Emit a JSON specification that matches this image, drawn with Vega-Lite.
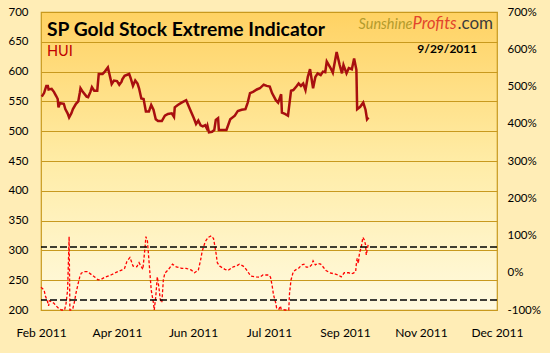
{
  "$schema": "https://vega.github.io/schema/vega-lite/v6.json",
  "width": 456,
  "height": 298,
  "autosize": "none",
  "padding": {"left": 41, "top": 12, "right": 53, "bottom": 43},
  "background": "#FFEDB6",
  "config": {
    "font": "Lato",
    "view": {
      "stroke": "#C8991E",
      "strokeWidth": 1.2,
      "fill": {"gradient": "linear", "x1": 0, "y1": 0, "x2": 0, "y2": 1,
        "stops": [{"offset": 0, "color": "#FFD263"}, {"offset": 0.5, "color": "#FFECA6"}, {"offset": 1, "color": "#FFFAE0"}]}
    },
    "axis": {"labelFont": "Lato", "labelColor": "#000000", "title": null}
  },
  "title": {
    "text": "SP Gold Stock Extreme Indicator",
    "subtitle": "HUI",
    "anchor": "start",
    "frame": "group",
    "dx": 6,
    "dy": 52,
    "offset": 0,
    "font": "Lato",
    "fontSize": 19.3,
    "fontWeight": "bold",
    "color": "#000000",
    "subtitleFont": "Lato",
    "subtitleFontSize": 14.5,
    "subtitleColor": "#C00000",
    "subtitlePadding": 4
  },
  "datasets": {
    "hui": [
      {"date": "2011-02-25T12:00:00Z", "hui": 558},
      {"date": "2011-02-27T00:00:00Z", "hui": 564},
      {"date": "2011-02-28T12:00:00Z", "hui": 576},
      {"date": "2011-03-01T12:00:00Z", "hui": 576},
      {"date": "2011-03-02T00:00:00Z", "hui": 570},
      {"date": "2011-03-04T00:00:00Z", "hui": 571},
      {"date": "2011-03-05T12:00:00Z", "hui": 566},
      {"date": "2011-03-07T00:00:00Z", "hui": 559},
      {"date": "2011-03-08T00:00:00Z", "hui": 554},
      {"date": "2011-03-08T12:00:00Z", "hui": 540},
      {"date": "2011-03-09T12:00:00Z", "hui": 547},
      {"date": "2011-03-12T00:00:00Z", "hui": 546},
      {"date": "2011-03-13T00:00:00Z", "hui": 537},
      {"date": "2011-03-14T12:00:00Z", "hui": 530},
      {"date": "2011-03-15T12:00:00Z", "hui": 523},
      {"date": "2011-03-17T00:00:00Z", "hui": 530},
      {"date": "2011-03-18T00:00:00Z", "hui": 537},
      {"date": "2011-03-20T00:00:00Z", "hui": 546},
      {"date": "2011-03-21T12:00:00Z", "hui": 550},
      {"date": "2011-03-22T12:00:00Z", "hui": 564},
      {"date": "2011-03-23T00:00:00Z", "hui": 572},
      {"date": "2011-03-24T12:00:00Z", "hui": 566},
      {"date": "2011-03-27T00:00:00Z", "hui": 558},
      {"date": "2011-03-28T00:00:00Z", "hui": 557},
      {"date": "2011-03-29T12:00:00Z", "hui": 566},
      {"date": "2011-03-30T12:00:00Z", "hui": 574},
      {"date": "2011-04-01T00:00:00Z", "hui": 568},
      {"date": "2011-04-03T00:00:00Z", "hui": 568},
      {"date": "2011-04-04T00:00:00Z", "hui": 596},
      {"date": "2011-04-06T12:00:00Z", "hui": 596},
      {"date": "2011-04-08T00:00:00Z", "hui": 600},
      {"date": "2011-04-10T00:00:00Z", "hui": 607},
      {"date": "2011-04-12T00:00:00Z", "hui": 585},
      {"date": "2011-04-12T12:00:00Z", "hui": 579},
      {"date": "2011-04-14T00:00:00Z", "hui": 585},
      {"date": "2011-04-16T00:00:00Z", "hui": 584},
      {"date": "2011-04-17T12:00:00Z", "hui": 578},
      {"date": "2011-04-19T00:00:00Z", "hui": 583},
      {"date": "2011-04-19T12:00:00Z", "hui": 587},
      {"date": "2011-04-21T00:00:00Z", "hui": 593},
      {"date": "2011-04-24T00:00:00Z", "hui": 596},
      {"date": "2011-04-25T00:00:00Z", "hui": 589},
      {"date": "2011-04-26T12:00:00Z", "hui": 576},
      {"date": "2011-04-28T00:00:00Z", "hui": 585},
      {"date": "2011-04-29T12:00:00Z", "hui": 580},
      {"date": "2011-04-30T12:00:00Z", "hui": 572},
      {"date": "2011-05-02T00:00:00Z", "hui": 555},
      {"date": "2011-05-03T12:00:00Z", "hui": 554},
      {"date": "2011-05-05T00:00:00Z", "hui": 533},
      {"date": "2011-05-07T00:00:00Z", "hui": 533},
      {"date": "2011-05-08T12:00:00Z", "hui": 544},
      {"date": "2011-05-10T00:00:00Z", "hui": 536},
      {"date": "2011-05-11T12:00:00Z", "hui": 520},
      {"date": "2011-05-13T00:00:00Z", "hui": 517},
      {"date": "2011-05-15T12:00:00Z", "hui": 517},
      {"date": "2011-05-17T12:00:00Z", "hui": 526},
      {"date": "2011-05-19T12:00:00Z", "hui": 529},
      {"date": "2011-05-22T00:00:00Z", "hui": 530},
      {"date": "2011-05-23T12:00:00Z", "hui": 524},
      {"date": "2011-05-24T00:00:00Z", "hui": 540},
      {"date": "2011-05-26T00:00:00Z", "hui": 544},
      {"date": "2011-05-28T12:00:00Z", "hui": 548},
      {"date": "2011-05-31T12:00:00Z", "hui": 552},
      {"date": "2011-06-03T00:00:00Z", "hui": 537},
      {"date": "2011-06-05T12:00:00Z", "hui": 522},
      {"date": "2011-06-07T00:00:00Z", "hui": 512},
      {"date": "2011-06-08T12:00:00Z", "hui": 518},
      {"date": "2011-06-10T00:00:00Z", "hui": 510},
      {"date": "2011-06-11T12:00:00Z", "hui": 508},
      {"date": "2011-06-13T00:00:00Z", "hui": 510},
      {"date": "2011-06-14T00:00:00Z", "hui": 505},
      {"date": "2011-06-14T12:00:00Z", "hui": 509},
      {"date": "2011-06-15T12:00:00Z", "hui": 498},
      {"date": "2011-06-17T12:00:00Z", "hui": 499},
      {"date": "2011-06-19T00:00:00Z", "hui": 502},
      {"date": "2011-06-20T00:00:00Z", "hui": 519},
      {"date": "2011-06-21T12:00:00Z", "hui": 522},
      {"date": "2011-06-22T00:00:00Z", "hui": 502},
      {"date": "2011-06-27T00:00:00Z", "hui": 502},
      {"date": "2011-06-29T12:00:00Z", "hui": 520},
      {"date": "2011-07-02T12:00:00Z", "hui": 526},
      {"date": "2011-07-04T12:00:00Z", "hui": 534},
      {"date": "2011-07-07T00:00:00Z", "hui": 536},
      {"date": "2011-07-09T12:00:00Z", "hui": 537},
      {"date": "2011-07-11T00:00:00Z", "hui": 548},
      {"date": "2011-07-12T12:00:00Z", "hui": 564},
      {"date": "2011-07-14T12:00:00Z", "hui": 566},
      {"date": "2011-07-17T00:00:00Z", "hui": 570},
      {"date": "2011-07-19T00:00:00Z", "hui": 572},
      {"date": "2011-07-21T12:00:00Z", "hui": 578},
      {"date": "2011-07-23T12:00:00Z", "hui": 576},
      {"date": "2011-07-25T12:00:00Z", "hui": 575},
      {"date": "2011-07-27T00:00:00Z", "hui": 564},
      {"date": "2011-07-29T12:00:00Z", "hui": 552},
      {"date": "2011-07-31T00:00:00Z", "hui": 548},
      {"date": "2011-08-02T00:00:00Z", "hui": 562},
      {"date": "2011-08-02T12:00:00Z", "hui": 531},
      {"date": "2011-08-04T12:00:00Z", "hui": 529},
      {"date": "2011-08-06T12:00:00Z", "hui": 526},
      {"date": "2011-08-08T12:00:00Z", "hui": 568},
      {"date": "2011-08-10T00:00:00Z", "hui": 569},
      {"date": "2011-08-12T00:00:00Z", "hui": 575},
      {"date": "2011-08-13T12:00:00Z", "hui": 580},
      {"date": "2011-08-15T00:00:00Z", "hui": 576},
      {"date": "2011-08-16T12:00:00Z", "hui": 580},
      {"date": "2011-08-18T00:00:00Z", "hui": 569},
      {"date": "2011-08-19T12:00:00Z", "hui": 591},
      {"date": "2011-08-21T00:00:00Z", "hui": 604},
      {"date": "2011-08-23T00:00:00Z", "hui": 572},
      {"date": "2011-08-24T12:00:00Z", "hui": 591},
      {"date": "2011-08-26T00:00:00Z", "hui": 597},
      {"date": "2011-08-28T00:00:00Z", "hui": 594},
      {"date": "2011-08-29T12:00:00Z", "hui": 600},
      {"date": "2011-08-31T00:00:00Z", "hui": 599},
      {"date": "2011-09-01T00:00:00Z", "hui": 617},
      {"date": "2011-09-03T12:00:00Z", "hui": 606},
      {"date": "2011-09-05T00:00:00Z", "hui": 598},
      {"date": "2011-09-07T12:00:00Z", "hui": 633},
      {"date": "2011-09-09T12:00:00Z", "hui": 611},
      {"date": "2011-09-11T00:00:00Z", "hui": 597},
      {"date": "2011-09-12T00:00:00Z", "hui": 611},
      {"date": "2011-09-14T00:00:00Z", "hui": 597},
      {"date": "2011-09-15T12:00:00Z", "hui": 606},
      {"date": "2011-09-17T12:00:00Z", "hui": 604},
      {"date": "2011-09-19T00:00:00Z", "hui": 622},
      {"date": "2011-09-20T12:00:00Z", "hui": 603},
      {"date": "2011-09-21T00:00:00Z", "hui": 537},
      {"date": "2011-09-23T00:00:00Z", "hui": 541},
      {"date": "2011-09-25T00:00:00Z", "hui": 548},
      {"date": "2011-09-26T12:00:00Z", "hui": 536},
      {"date": "2011-09-27T12:00:00Z", "hui": 520},
      {"date": "2011-09-28T12:00:00Z", "hui": 523}
    ],
    "ind": [
      {"date": "2011-02-25T00:00:00Z", "pct": -39},
      {"date": "2011-02-27T00:00:00Z", "pct": -46},
      {"date": "2011-02-28T00:00:00Z", "pct": -64},
      {"date": "2011-03-01T00:00:00Z", "pct": -73},
      {"date": "2011-03-02T00:00:00Z", "pct": -89},
      {"date": "2011-03-02T12:00:00Z", "pct": -75},
      {"date": "2011-03-04T00:00:00Z", "pct": -78},
      {"date": "2011-03-05T12:00:00Z", "pct": -82},
      {"date": "2011-03-07T00:00:00Z", "pct": -89},
      {"date": "2011-03-08T12:00:00Z", "pct": -95},
      {"date": "2011-03-10T12:00:00Z", "pct": -100},
      {"date": "2011-03-12T12:00:00Z", "pct": -100},
      {"date": "2011-03-13T12:00:00Z", "pct": -82},
      {"date": "2011-03-14T12:00:00Z", "pct": -46},
      {"date": "2011-03-15T12:00:00Z", "pct": 97},
      {"date": "2011-03-16T00:00:00Z", "pct": -100},
      {"date": "2011-03-17T00:00:00Z", "pct": -100},
      {"date": "2011-03-18T00:00:00Z", "pct": -95},
      {"date": "2011-03-19T00:00:00Z", "pct": -78},
      {"date": "2011-03-20T00:00:00Z", "pct": -55},
      {"date": "2011-03-21T12:00:00Z", "pct": -28},
      {"date": "2011-03-22T12:00:00Z", "pct": -11},
      {"date": "2011-03-23T12:00:00Z", "pct": -1},
      {"date": "2011-03-25T12:00:00Z", "pct": 3},
      {"date": "2011-03-27T12:00:00Z", "pct": 3},
      {"date": "2011-03-29T12:00:00Z", "pct": -3},
      {"date": "2011-04-01T12:00:00Z", "pct": -12},
      {"date": "2011-04-03T12:00:00Z", "pct": -19},
      {"date": "2011-04-05T12:00:00Z", "pct": -18},
      {"date": "2011-04-08T00:00:00Z", "pct": -12},
      {"date": "2011-04-10T00:00:00Z", "pct": -9},
      {"date": "2011-04-12T00:00:00Z", "pct": -6},
      {"date": "2011-04-14T12:00:00Z", "pct": -1},
      {"date": "2011-04-16T12:00:00Z", "pct": 3},
      {"date": "2011-04-19T00:00:00Z", "pct": 7},
      {"date": "2011-04-21T00:00:00Z", "pct": 12},
      {"date": "2011-04-22T12:00:00Z", "pct": 30},
      {"date": "2011-04-24T12:00:00Z", "pct": 41},
      {"date": "2011-04-25T12:00:00Z", "pct": 30},
      {"date": "2011-04-26T12:00:00Z", "pct": 18},
      {"date": "2011-04-29T00:00:00Z", "pct": 16},
      {"date": "2011-04-30T12:00:00Z", "pct": 27},
      {"date": "2011-05-02T00:00:00Z", "pct": 16},
      {"date": "2011-05-03T00:00:00Z", "pct": 9},
      {"date": "2011-05-04T12:00:00Z", "pct": 70},
      {"date": "2011-05-05T00:00:00Z", "pct": 97},
      {"date": "2011-05-06T00:00:00Z", "pct": 86},
      {"date": "2011-05-07T00:00:00Z", "pct": 34},
      {"date": "2011-05-08T12:00:00Z", "pct": -46},
      {"date": "2011-05-10T00:00:00Z", "pct": -82},
      {"date": "2011-05-10T12:00:00Z", "pct": -100},
      {"date": "2011-05-11T12:00:00Z", "pct": -64},
      {"date": "2011-05-12T12:00:00Z", "pct": -11},
      {"date": "2011-05-13T12:00:00Z", "pct": -37},
      {"date": "2011-05-14T12:00:00Z", "pct": -73},
      {"date": "2011-05-15T12:00:00Z", "pct": -80},
      {"date": "2011-05-16T12:00:00Z", "pct": -19},
      {"date": "2011-05-17T12:00:00Z", "pct": -1},
      {"date": "2011-05-19T12:00:00Z", "pct": 7},
      {"date": "2011-05-22T12:00:00Z", "pct": 23},
      {"date": "2011-05-25T00:00:00Z", "pct": 16},
      {"date": "2011-05-28T12:00:00Z", "pct": 12},
      {"date": "2011-05-31T12:00:00Z", "pct": 12},
      {"date": "2011-06-04T00:00:00Z", "pct": 7},
      {"date": "2011-06-06T00:00:00Z", "pct": 0},
      {"date": "2011-06-08T12:00:00Z", "pct": 7},
      {"date": "2011-06-10T00:00:00Z", "pct": 34},
      {"date": "2011-06-11T00:00:00Z", "pct": 57},
      {"date": "2011-06-13T00:00:00Z", "pct": 83},
      {"date": "2011-06-15T00:00:00Z", "pct": 95},
      {"date": "2011-06-17T00:00:00Z", "pct": 99},
      {"date": "2011-06-18T12:00:00Z", "pct": 92},
      {"date": "2011-06-20T00:00:00Z", "pct": 57},
      {"date": "2011-06-21T00:00:00Z", "pct": 27},
      {"date": "2011-06-22T12:00:00Z", "pct": 18},
      {"date": "2011-06-26T00:00:00Z", "pct": 9},
      {"date": "2011-06-28T00:00:00Z", "pct": 6},
      {"date": "2011-07-01T12:00:00Z", "pct": 16},
      {"date": "2011-07-03T12:00:00Z", "pct": 18},
      {"date": "2011-07-05T12:00:00Z", "pct": 23},
      {"date": "2011-07-08T00:00:00Z", "pct": 18},
      {"date": "2011-07-10T00:00:00Z", "pct": 9},
      {"date": "2011-07-13T00:00:00Z", "pct": -9},
      {"date": "2011-07-16T12:00:00Z", "pct": -11},
      {"date": "2011-07-19T00:00:00Z", "pct": -12},
      {"date": "2011-07-21T00:00:00Z", "pct": -6},
      {"date": "2011-07-25T00:00:00Z", "pct": -6},
      {"date": "2011-07-26T00:00:00Z", "pct": -12},
      {"date": "2011-07-27T00:00:00Z", "pct": -33},
      {"date": "2011-07-28T00:00:00Z", "pct": -60},
      {"date": "2011-07-29T12:00:00Z", "pct": -82},
      {"date": "2011-07-30T00:00:00Z", "pct": -95},
      {"date": "2011-07-31T12:00:00Z", "pct": -98},
      {"date": "2011-08-01T12:00:00Z", "pct": -89},
      {"date": "2011-08-02T00:00:00Z", "pct": -98},
      {"date": "2011-08-04T12:00:00Z", "pct": -100},
      {"date": "2011-08-07T00:00:00Z", "pct": -100},
      {"date": "2011-08-07T12:00:00Z", "pct": -55},
      {"date": "2011-08-08T12:00:00Z", "pct": -19},
      {"date": "2011-08-10T00:00:00Z", "pct": 3},
      {"date": "2011-08-12T00:00:00Z", "pct": 9},
      {"date": "2011-08-13T12:00:00Z", "pct": 12},
      {"date": "2011-08-15T12:00:00Z", "pct": 21},
      {"date": "2011-08-17T00:00:00Z", "pct": 23},
      {"date": "2011-08-18T12:00:00Z", "pct": 15},
      {"date": "2011-08-20T12:00:00Z", "pct": 15},
      {"date": "2011-08-22T00:00:00Z", "pct": 21},
      {"date": "2011-08-23T00:00:00Z", "pct": 32},
      {"date": "2011-08-24T12:00:00Z", "pct": 21},
      {"date": "2011-08-26T00:00:00Z", "pct": 25},
      {"date": "2011-08-28T00:00:00Z", "pct": 23},
      {"date": "2011-08-29T12:00:00Z", "pct": 16},
      {"date": "2011-08-31T12:00:00Z", "pct": 6},
      {"date": "2011-09-03T00:00:00Z", "pct": 0},
      {"date": "2011-09-06T00:00:00Z", "pct": -3},
      {"date": "2011-09-08T12:00:00Z", "pct": -6},
      {"date": "2011-09-10T12:00:00Z", "pct": -11},
      {"date": "2011-09-12T12:00:00Z", "pct": 0},
      {"date": "2011-09-15T12:00:00Z", "pct": 0},
      {"date": "2011-09-17T00:00:00Z", "pct": -3},
      {"date": "2011-09-18T12:00:00Z", "pct": -1},
      {"date": "2011-09-20T00:00:00Z", "pct": 3},
      {"date": "2011-09-20T12:00:00Z", "pct": 25},
      {"date": "2011-09-21T00:00:00Z", "pct": 39},
      {"date": "2011-09-21T18:00:00Z", "pct": 25},
      {"date": "2011-09-22T12:00:00Z", "pct": 52},
      {"date": "2011-09-23T18:00:00Z", "pct": 70},
      {"date": "2011-09-24T18:00:00Z", "pct": 95},
      {"date": "2011-09-25T18:00:00Z", "pct": 88},
      {"date": "2011-09-26T12:00:00Z", "pct": 75},
      {"date": "2011-09-27T00:00:00Z", "pct": 48},
      {"date": "2011-09-27T18:00:00Z", "pct": 66},
      {"date": "2011-09-28T06:00:00Z", "pct": 75}
    ]
  },
  "layer": [
    {
      "data": {"name": "hui"},
      "mark": {"type": "line", "color": "#A80F0F", "strokeWidth": 2.5, "strokeJoin": "miter"},
      "encoding": {
        "x": {
          "field": "date", "type": "temporal",
          "scale": {"type": "utc", "nice": false,
            "domain": [{"year": 2011, "month": 2, "date": 25, "utc": true}, {"year": 2011, "month": 12, "date": 22, "utc": true}]},
          "axis": {
            "values": [
              {"year": 2011, "month": 2, "date": 25, "utc": true},
              {"year": 2011, "month": 4, "date": 16, "utc": true},
              {"year": 2011, "month": 6, "date": 5, "utc": true},
              {"year": 2011, "month": 7, "date": 25, "utc": true},
              {"year": 2011, "month": 9, "date": 13, "utc": true},
              {"year": 2011, "month": 11, "date": 2, "utc": true},
              {"year": 2011, "month": 12, "date": 22, "utc": true}
            ],
            "format": "%b %Y",
            "tickSize": 0, "domain": false, "grid": false,
            "labelPadding": 17, "labelFontSize": 12,
            "labelFlush": false, "labelOverlap": false, "labelBound": false
          }
        },
        "y": {
          "field": "hui", "type": "quantitative",
          "scale": {"domain": [200, 700], "nice": false, "zero": false},
          "axis": {
            "values": [200, 250, 300, 350, 400, 450, 500, 550, 600, 650, 700],
            "tickSize": 0, "domain": false, "grid": true,
            "gridColor": "#C8991E", "gridOpacity": 1, "gridWidth": 1,
            "labelPadding": 13, "labelFontSize": 11.5,
            "labelOverlap": false, "labelFlush": false
          }
        }
      }
    },
    {
      "data": {"name": "ind"},
      "mark": {"type": "line", "color": "#FF0000", "strokeWidth": 1.3, "strokeDash": [3, 2]},
      "encoding": {
        "x": {"field": "date", "type": "temporal", "axis": null},
        "y": {
          "field": "pct", "type": "quantitative",
          "scale": {"domain": [-100, 700], "nice": false, "zero": false},
          "axis": {
            "orient": "right",
            "values": [-100, 0, 100, 200, 300, 400, 500, 600, 700],
            "labelExpr": "datum.value + '%'",
            "tickSize": 0, "domain": false, "grid": false,
            "labelPadding": 10, "labelFontSize": 11.5,
            "labelOverlap": false, "labelFlush": false
          }
        }
      }
    },
    {
      "data": {"values": [{}]},
      "mark": {"type": "rule", "color": "#000000", "strokeWidth": 1.4, "strokeDash": [7, 3]},
      "encoding": {"y": {"datum": 69, "type": "quantitative", "scale": {"domain": [-100, 700], "nice": false, "zero": false}, "axis": null}}
    },
    {
      "data": {"values": [{}]},
      "mark": {"type": "rule", "color": "#000000", "strokeWidth": 1.4, "strokeDash": [7, 3]},
      "encoding": {"y": {"datum": -73, "type": "quantitative", "scale": {"domain": [-100, 700], "nice": false, "zero": false}, "axis": null}}
    },
    {
      "data": {"values": [{}]},
      "mark": {"type": "text", "text": "Sunshine", "align": "right", "baseline": "alphabetic", "font": "Lato", "fontStyle": "italic", "fontSize": 14.5, "color": "#B49B2C"},
      "encoding": {
        "x": {"datum": {"year": 2011, "month": 10, "date": 27, "hours": 10, "utc": true}, "type": "temporal", "axis": null},
        "y": {"datum": 671.5, "type": "quantitative", "scale": {"domain": [200, 700], "nice": false, "zero": false}, "axis": null}
      }
    },
    {
      "data": {"values": [{}]},
      "mark": {"type": "text", "text": "Profits", "align": "left", "baseline": "alphabetic", "font": "Lato", "fontStyle": "italic", "fontSize": 16.5, "color": "#E2452C"},
      "encoding": {
        "x": {"datum": {"year": 2011, "month": 10, "date": 27, "hours": 10, "utc": true}, "type": "temporal", "axis": null},
        "y": {"datum": 671.5, "type": "quantitative", "scale": {"domain": [200, 700], "nice": false, "zero": false}, "axis": null}
      }
    },
    {
      "data": {"values": [{}]},
      "mark": {"type": "text", "text": ".com", "align": "left", "baseline": "alphabetic", "font": "Lato", "fontSize": 17, "color": "#3C3C3C"},
      "encoding": {
        "x": {"datum": {"year": 2011, "month": 11, "date": 26, "utc": true}, "type": "temporal", "axis": null},
        "y": {"datum": 671.5, "type": "quantitative", "scale": {"domain": [200, 700], "nice": false, "zero": false}, "axis": null}
      }
    },
    {
      "data": {"values": [{}]},
      "mark": {"type": "text", "text": "9/29/2011", "align": "right", "baseline": "alphabetic", "font": "Lato", "fontWeight": "bold", "fontSize": 12, "color": "#000000"},
      "encoding": {
        "x": {"datum": {"year": 2011, "month": 12, "date": 9, "utc": true}, "type": "temporal", "axis": null},
        "y": {"datum": 631.3, "type": "quantitative", "scale": {"domain": [200, 700], "nice": false, "zero": false}, "axis": null}
      }
    }
  ],
  "resolve": {"scale": {"y": "independent"}, "axis": {"x": "independent", "y": "independent"}}
}
